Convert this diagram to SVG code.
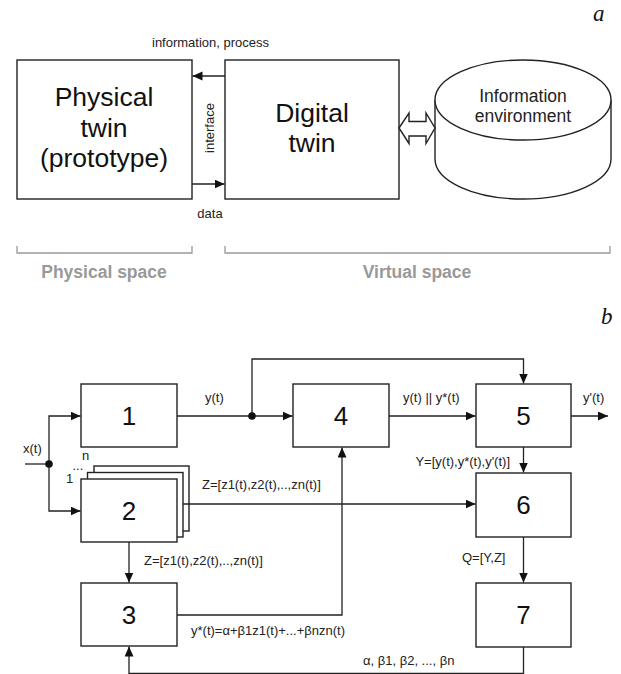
<svg xmlns="http://www.w3.org/2000/svg" width="621" height="674" viewBox="0 0 621 674">
  <style>
    .box { fill: #fff; stroke: #222; stroke-width: 1.4; }
    .ln { fill: none; stroke: #222; stroke-width: 1.3; }
    .arr { marker-end: url(#ah); }
    .big { font-family: "Liberation Sans", Arial, sans-serif; font-size: 26.5px; fill: #111; text-anchor: middle; }
    .num { font-family: "Liberation Sans", Arial, sans-serif; font-size: 26px; fill: #111; text-anchor: middle; }
    .lbl { font-family: "Liberation Sans", Arial, sans-serif; font-size: 13px; fill: #222; }
    .env { font-family: "Liberation Sans", Arial, sans-serif; font-size: 17.5px; fill: #222; text-anchor: middle; }
    .space { font-family: "Liberation Sans", Arial, sans-serif; font-size: 17.5px; font-weight: bold; fill: #999; text-anchor: middle; }
    .brk { fill: none; stroke: #999; stroke-width: 1.3; }
    .tag { font-family: "Liberation Serif", "Times New Roman", serif; font-size: 23px; font-style: italic; fill: #111; }
  </style>
  <defs>
    <marker id="ah" markerUnits="userSpaceOnUse" markerWidth="11" markerHeight="10" refX="10" refY="4.5" orient="auto">
      <path d="M0,0 L10,4.5 L0,9 z" fill="#111"/>
    </marker>
  </defs>

  <!-- Part a: twin concept -->
  <text class="tag" x="593" y="21">a</text>

  <g id="physical-twin">
    <rect class="box" x="17" y="60" width="175" height="139"/>
    <text class="big" x="104" y="106">Physical</text>
    <text class="big" x="104" y="137">twin</text>
    <text class="big" x="104" y="167">(prototype)</text>
  </g>

  <g id="digital-twin">
    <rect class="box" x="225" y="60" width="174" height="139"/>
    <text class="big" x="312" y="122">Digital</text>
    <text class="big" x="312" y="152">twin</text>
  </g>

  <g id="information-environment">
    <path class="box" d="M435,100 L435,159 A88,40 0 0 0 611,159 L611,100"/>
    <ellipse class="box" cx="523" cy="100" rx="88" ry="40"/>
    <text class="env" x="523" y="102">Information</text>
    <text class="env" x="523" y="122">environment</text>
  </g>

  <g id="connectors-a">
    <line class="ln arr" x1="225" y1="76" x2="192.5" y2="76"/>
    <line class="ln arr" x1="192" y1="184" x2="224.5" y2="184"/>
    <path class="box" d="M399,128 L409,113 L409,121.5 L426,121.5 L426,113 L435,128 L426,143.5 L426,136 L409,136 L409,143.5 Z" stroke-width="1.1"/>
    <text class="lbl" x="152" y="47">information, process</text>
    <text class="lbl" x="210" y="218" text-anchor="middle">data</text>
    <text class="lbl" transform="translate(213.5,128) rotate(-90)" text-anchor="middle">interface</text>
  </g>

  <g id="spaces">
    <path class="brk" d="M17,246 L17,253 L192,253 L192,246"/>
    <path class="brk" d="M225,246 L225,253 L610,253 L610,246"/>
    <text class="space" x="104" y="278">Physical space</text>
    <text class="space" x="417" y="278">Virtual space</text>
  </g>

  <!-- Part b: processing scheme -->
  <text class="tag" x="601" y="324">b</text>

  <g id="block-1">
    <rect class="box" x="81" y="384" width="96" height="63"/>
    <text class="num" x="129" y="425">1</text>
  </g>

  <g id="block-2">
    <rect class="box" x="94" y="466" width="95" height="65"/>
    <rect class="box" x="87.5" y="472.5" width="95.5" height="64.5"/>
    <rect class="box" x="81" y="479" width="96" height="63"/>
    <text class="num" x="129" y="520">2</text>
    <text class="lbl" x="82" y="460" font-size="12">n</text>
    <text class="lbl" x="72.5" y="470" font-size="10">...</text>
    <text class="lbl" x="66" y="483" font-size="12">1</text>
  </g>

  <g id="block-3">
    <rect class="box" x="81" y="583" width="96" height="63"/>
    <text class="num" x="129" y="624">3</text>
  </g>

  <g id="block-4">
    <rect class="box" x="293" y="384" width="96" height="63"/>
    <text class="num" x="341" y="425">4</text>
  </g>

  <g id="block-5">
    <rect class="box" x="476" y="384" width="95" height="63"/>
    <text class="num" x="523.5" y="425">5</text>
  </g>

  <g id="block-6">
    <rect class="box" x="476" y="473" width="95" height="64"/>
    <text class="num" x="523.5" y="514">6</text>
  </g>

  <g id="block-7">
    <rect class="box" x="476" y="583" width="95" height="64"/>
    <text class="num" x="523.5" y="624">7</text>
  </g>

  <g id="connectors-b">
    <!-- input x(t) split to blocks 1 and 2 -->
    <line class="ln" x1="25" y1="464" x2="49" y2="464"/>
    <path class="ln arr" d="M49,464 L49,416 L80.5,416"/>
    <path class="ln arr" d="M49,464 L49,511 L80.5,511"/>
    <circle cx="49" cy="464" r="3.8" fill="#111"/>
    <text class="lbl" x="23" y="453">x(t)</text>

    <!-- y(t) to blocks 4 and 5 -->
    <line class="ln arr" x1="177" y1="416" x2="292.5" y2="416"/>
    <path class="ln arr" d="M252,416 L252,359 L523.5,359 L523.5,383.5"/>
    <circle cx="252" cy="416" r="3.8" fill="#111"/>
    <text class="lbl" x="205" y="402">y(t)</text>

    <!-- 4 to 5, 5 output -->
    <line class="ln arr" x1="389" y1="416" x2="475.5" y2="416"/>
    <text class="lbl" x="403" y="402">y(t) || y*(t)</text>
    <line class="ln arr" x1="571" y1="416" x2="608" y2="416"/>
    <text class="lbl" x="583" y="402">y'(t)</text>

    <!-- 5 to 6 -->
    <line class="ln arr" x1="523.5" y1="447" x2="523.5" y2="472.5"/>
    <text class="lbl" x="510" y="466" text-anchor="end">Y=[y(t),y*(t),y'(t)]</text>

    <!-- 2 to 6 -->
    <line class="ln arr" x1="183" y1="504" x2="475.5" y2="504"/>
    <text class="lbl" x="202" y="489">Z=[z1(t),z2(t),..,zn(t)]</text>

    <!-- 2 to 3 -->
    <line class="ln arr" x1="129" y1="542" x2="129" y2="582.5"/>
    <text class="lbl" x="144" y="565">Z=[z1(t),z2(t),..,zn(t)]</text>

    <!-- 3 to 4 -->
    <path class="ln arr" d="M177,615 L342,615 L342,447.5"/>
    <text class="lbl" x="191" y="635">y*(t)=α+β1z1(t)+...+βnzn(t)</text>

    <!-- 6 to 7 -->
    <line class="ln arr" x1="523.5" y1="537" x2="523.5" y2="582.5"/>
    <text class="lbl" x="462" y="562">Q=[Y,Z]</text>

    <!-- 7 back to 3 -->
    <path class="ln arr" d="M523.5,647 L523.5,673.5 L129,673.5 L129,646.5"/>
    <text class="lbl" x="363" y="665">α, β1, β2, ..., βn</text>
  </g>
</svg>
